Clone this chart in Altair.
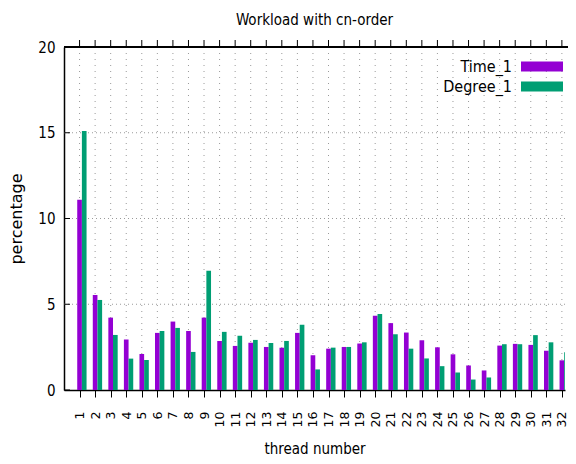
import altair as alt
import pandas as pd

# ---- data ----
threads = list(range(1, 33))
time_1 = [11.1, 5.54, 4.22, 2.94, 2.10, 3.33, 3.99, 3.44, 4.22, 2.86, 2.57, 2.76,
          2.51, 2.47, 3.33, 2.03, 2.41, 2.51, 2.71, 4.33, 3.90, 3.35, 2.90, 2.49,
          2.08, 1.43, 1.14, 2.59, 2.69, 2.63, 2.29, 1.73]
degree_1 = [15.1, 5.25, 3.21, 1.83, 1.75, 3.44, 3.62, 2.22, 6.96, 3.39, 3.17, 2.92,
            2.74, 2.86, 3.81, 1.20, 2.47, 2.51, 2.78, 4.43, 3.25, 2.41, 1.84, 1.39,
            1.02, 0.61, 0.73, 2.67, 2.67, 3.20, 2.78, 2.20]
series_names = ["Time_1", "Degree_1"]
series_colors = ["#9400D3", "#009E73"]
y_ticks = [0, 5, 10, 15, 20]
y_grid = [5, 10, 15]

rows = []
for i, t in enumerate(threads):
    rows.append({"thread": t, "series": series_names[0], "idx": 0, "value": time_1[i]})
    rows.append({"thread": t, "series": series_names[1], "idx": 1, "value": degree_1[i]})
df = pd.DataFrame(rows)
thr_df = pd.DataFrame({"thread": threads})
ytick_df = pd.DataFrame({"value": y_ticks})
ygrid_df = pd.DataFrame({"value": y_grid})
leg_df = pd.DataFrame({"series": series_names, "idx": [0, 1]})

W, H = 501, 343
XDOM = [0, 32.2]
COND = "DejaVu Sans Condensed, Liberation Sans Narrow, DejaVu Sans, sans-serif"
xs = alt.Scale(domain=XDOM, nice=False, zero=False)
ys = alt.Scale(domain=[0, 20], nice=False, zero=True)

x_axis = alt.Axis(values=threads, title="thread number", labelAngle=270,
                  labelAlign="right", labelBaseline="middle", labelPadding=14,
                  labelFont="DejaVu Sans", labelFontSize=12.5, tickSize=7,
                  tickColor="black", tickWidth=1, grid=False,
                  titleFont=COND, titleFontSize=15, titleFontWeight="normal",
                  titleX=W / 2, titleY=63, titleBaseline="alphabetic",
                  labelFlush=False, labelOverlap=False)
y_axis = alt.Axis(values=y_ticks, title="percentage", ticks=False, labelPadding=9,
                  labelFont=COND, labelFontSize=15, grid=False,
                  titleFont="DejaVu Sans", titleFontSize=16, titleFontWeight="normal",
                  titleAngle=270, titleX=-48, titleY=H / 2, titleBaseline="middle",
                  titleAlign="center", labelFlush=False)

vgrid = alt.Chart(thr_df).mark_rule(color="#9a9a9a", strokeWidth=1, strokeDash=[1, 5]).encode(
    x=alt.X("thread:Q", scale=xs, axis=x_axis)
)
hgrid = alt.Chart(ygrid_df).mark_rule(color="#9a9a9a", strokeWidth=1, strokeDash=[1, 3]).encode(
    y=alt.Y("value:Q", scale=ys, axis=y_axis)
)

bars = alt.Chart(df).transform_calculate(
    x0="datum.thread - 0.15 + datum.idx * 0.3",
    x1="datum.thread + 0.15 + datum.idx * 0.3",
).mark_rect(clip=True).encode(
    x=alt.X("x0:Q", scale=xs, axis=x_axis),
    x2="x1:Q",
    y=alt.Y("value:Q", scale=ys, axis=y_axis),
    y2=alt.datum(0),
    color=alt.Color("series:N", scale=alt.Scale(domain=series_names, range=series_colors),
                    legend=None),
)

yticks_in = alt.Chart(ytick_df).mark_rule(color="black", strokeWidth=1).encode(
    y=alt.Y("value:Q", scale=ys, axis=y_axis), x=alt.value(0), x2=alt.value(6)
)
top_ticks = alt.Chart(thr_df).mark_rule(color="black", strokeWidth=1).encode(
    x=alt.X("thread:Q", scale=xs, axis=x_axis), y=alt.value(-7), y2=alt.value(0)
)
top_border = alt.Chart(thr_df).mark_rule(color="black", strokeWidth=1.5).encode(
    x=alt.value(0), x2=alt.value(W + 3), y=alt.value(0)
)

leg_base = alt.Chart(leg_df).transform_calculate(
    yc="19.5 + datum.idx * 20", ya="14.5 + datum.idx * 20", yb="24.5 + datum.idx * 20"
)
leg_rect = leg_base.mark_rect().encode(
    x=alt.value(457), x2=alt.value(499),
    y=alt.Y("ya:Q", scale=None), y2="yb:Q",
    color=alt.Color("series:N", scale=alt.Scale(domain=series_names, range=series_colors),
                    legend=None),
)
leg_text = leg_base.mark_text(align="right", baseline="middle", font=COND, fontSize=16,
                              color="black").encode(
    x=alt.value(448), y=alt.Y("yc:Q", scale=None), text="series:N"
)

chart = alt.layer(vgrid, hgrid, bars, yticks_in, top_ticks, top_border, leg_rect, leg_text).properties(
    width=W, height=H,
    autosize=alt.AutoSizeParams(type="none"),
    padding={"left": 56, "top": 39, "right": 3, "bottom": 66},
    title=alt.Title("Workload with cn-order", font=COND, fontSize=15, fontWeight="normal",
                    color="black", anchor="middle", offset=0, baseline="alphabetic"),
).configure_view(stroke=None).configure_axis(
    domainColor="black", domainWidth=1.5, labelColor="black", titleColor="black"
)

chart.save("out.html", embed_options={"renderer": "svg", "actions": False})
